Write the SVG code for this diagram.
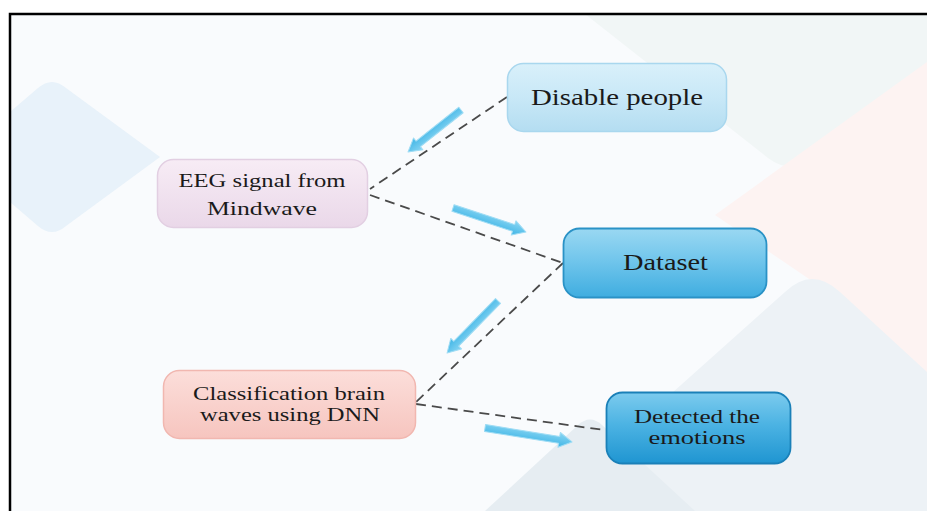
<svg xmlns="http://www.w3.org/2000/svg" width="927" height="511" viewBox="0 0 927 511">
<style>
  .lbl { font-family: "Liberation Serif", "Times New Roman", serif; fill: #1a1a1a; text-anchor: middle; }
  .big { font-size: 23px; }
  .sm { font-size: 19.5px; }
  .conn { fill: none; stroke: #4a4a4a; stroke-width: 1.8; stroke-dasharray: 10 6; }
  .barrow { fill: url(#gArrow); stroke: #9fdcf4; stroke-width: 1; stroke-linejoin: round; }
</style>
<defs>
  <linearGradient id="gDisable" x1="0" y1="0" x2="0" y2="1">
    <stop offset="0" stop-color="#d9f0fa"/>
    <stop offset="0.5" stop-color="#c8e8f7"/>
    <stop offset="1" stop-color="#b4ddf1"/>
  </linearGradient>
  <linearGradient id="gEEG" x1="0" y1="0" x2="0" y2="1">
    <stop offset="0" stop-color="#f7ecf5"/>
    <stop offset="1" stop-color="#ead8e9"/>
  </linearGradient>
  <linearGradient id="gData" x1="0" y1="0" x2="0" y2="1">
    <stop offset="0" stop-color="#9ad8f2"/>
    <stop offset="0.45" stop-color="#72c6ec"/>
    <stop offset="1" stop-color="#3fade0"/>
  </linearGradient>
  <linearGradient id="gClass" x1="0" y1="0" x2="0" y2="1">
    <stop offset="0" stop-color="#fcdeda"/>
    <stop offset="1" stop-color="#f6c5bf"/>
  </linearGradient>
  <linearGradient id="gDet" x1="0" y1="0" x2="0" y2="1">
    <stop offset="0" stop-color="#7ccbee"/>
    <stop offset="0.45" stop-color="#4cb3e3"/>
    <stop offset="1" stop-color="#1f95d1"/>
  </linearGradient>
  <linearGradient id="gArrow" x1="0" y1="0" x2="0" y2="1">
    <stop offset="0" stop-color="#8ad6f3"/>
    <stop offset="1" stop-color="#3fb5e6"/>
  </linearGradient>
</defs>

<!-- background -->
<rect x="0" y="0" width="927" height="511" fill="#ffffff"/>
<rect x="10" y="14" width="930" height="510" fill="#f9fbfd"/>
<g id="background-shapes">
  <path d="M10,112 L38,88 Q52,76 66,88 L160,157 L66,226 Q52,238 38,226 L10,202 Z" fill="#e8f2fa"/>
  <path d="M585,14 L768,158 Q790,175 820,160 L927,75 L927,14 Z" fill="#f1f6f6"/>
  <path d="M715,215 L927,62 L927,380 L840,300 Z" fill="#fdf3f2"/>
  <path d="M540,511 L785,292 Q812,266 840,292 L927,372 L927,511 Z" fill="#edf2f6"/>
  <path d="M485,511 L578,425 Q590,414 602,425 L695,511 Z" fill="#e6edf2"/>
</g>
<rect x="10" y="14" width="930" height="510" fill="none" stroke="#000" stroke-width="2.5"/>

<!-- connectors -->
<g id="connectors">
  <line class="conn" x1="507" y1="97" x2="370" y2="189"/>
  <line class="conn" x1="370" y1="195" x2="563" y2="263"/>
  <line class="conn" x1="563" y1="263" x2="416" y2="402"/>
  <line class="conn" x1="416" y1="404" x2="604" y2="430"/>
  <path class="barrow" transform="translate(461,110) rotate(141.6)" d="M0,-3.5 L54.6,-3.5 L54.6,-7.5 L67.6,0 L54.6,7.5 L54.6,3.5 L0,3.5 Z"/>
  <path class="barrow" transform="translate(453,208) rotate(18.2)" d="M0,-3.5 L63.8,-3.5 L63.8,-7.5 L76.8,0 L63.8,7.5 L63.8,3.5 L0,3.5 Z"/>
  <path class="barrow" transform="translate(498,301) rotate(134.4)" d="M0,-3.5 L59.8,-3.5 L59.8,-7.5 L72.8,0 L59.8,7.5 L59.8,3.5 L0,3.5 Z"/>
  <path class="barrow" transform="translate(485,428) rotate(9.1)" d="M0,-3.5 L75.1,-3.5 L75.1,-7.5 L88.1,0 L75.1,7.5 L75.1,3.5 L0,3.5 Z"/>
</g>

<!-- nodes -->
<g id="node-disable">
  <rect x="507.5" y="63.5" width="219" height="68" rx="16" fill="url(#gDisable)" stroke="#a9d7ee" stroke-width="1.5"/>
  <text class="lbl big" x="617" y="105" textLength="172" lengthAdjust="spacingAndGlyphs">Disable people</text>
</g>
<g id="node-eeg">
  <rect x="157.5" y="159.5" width="210" height="68" rx="16" fill="url(#gEEG)" stroke="#e2cfe2" stroke-width="1.5"/>
  <text class="lbl sm" x="262" y="187" textLength="167" lengthAdjust="spacingAndGlyphs">EEG signal from</text>
  <text class="lbl sm" x="262" y="215" textLength="110" lengthAdjust="spacingAndGlyphs">Mindwave</text>
</g>
<g id="node-dataset">
  <rect x="563.5" y="228.5" width="203" height="69" rx="16" fill="url(#gData)" stroke="#2a92c6" stroke-width="1.8"/>
  <text class="lbl big" x="665.5" y="270" textLength="85" lengthAdjust="spacingAndGlyphs">Dataset</text>
</g>
<g id="node-classification">
  <rect x="163.5" y="370.5" width="252" height="68" rx="16" fill="url(#gClass)" stroke="#f1b7b0" stroke-width="1.5"/>
  <text class="lbl sm" x="289" y="400" textLength="192" lengthAdjust="spacingAndGlyphs">Classification brain</text>
  <text class="lbl sm" x="290" y="421" textLength="180" lengthAdjust="spacingAndGlyphs">waves using DNN</text>
</g>
<g id="node-detected">
  <rect x="606.5" y="392.5" width="184" height="71" rx="16" fill="url(#gDet)" stroke="#1a80b8" stroke-width="1.8"/>
  <text class="lbl sm" x="697" y="423" textLength="126" lengthAdjust="spacingAndGlyphs">Detected the</text>
  <text class="lbl sm" x="697" y="444" textLength="97" lengthAdjust="spacingAndGlyphs">emotions</text>
</g>
</svg>
